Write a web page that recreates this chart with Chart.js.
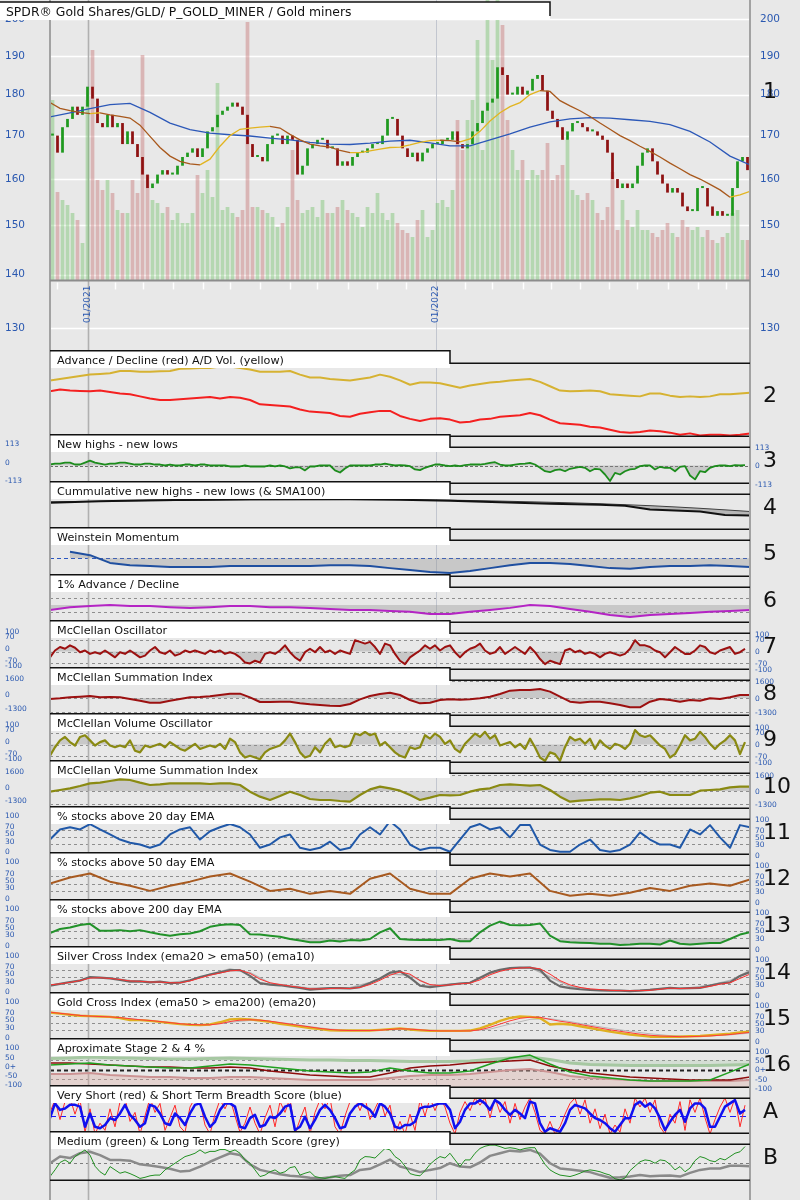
<!DOCTYPE html>
<html>
<head>
<meta charset="utf-8">
<title>GLD / P_GOLD_MINER breadth</title>
<script src="https://cdn.jsdelivr.net/npm/chart.js@4.4.1/dist/chart.umd.min.js"></script>
<style>
  html, body { margin: 0; padding: 0; background: #e8e8e8; }
  #wrap { position: relative; width: 800px; height: 1200px; overflow: hidden; background: #e8e8e8; }
  #wrap canvas { position: absolute; left: 0; }
</style>
</head>
<body>
<div id="wrap"></div>
<script>
// ---- time axis (x = sample index, one sample ~ 3.5 trading days) ----
const janTicks = [7.1, 76.7];
const janLabels = ["01/2021", "01/2022"];
const monthTicks = [0.9, 12.5, 18.1, 24.1, 30.1, 35.5, 41.5, 47.5, 52.9, 59.1, 64.9, 70.7,
  82.5, 87.9, 94.1, 99.7, 105.5, 111.3, 116.9, 123.1, 129.1, 134.7];
const priceTicks = [130, 140, 150, 160, 170, 180, 190, 200];

// ---- GLD price panel ----
const closes = [
  170,166,172,174,177,175,177,182,179,173,
  172,175,172,173,168,171,168,165,161,158,
  159,161,162,161,161,163,165,166,167,165,
  167,171,172,175,176,177,178,177,175,168,
  165,165,164,168,170,170,168,170,169,161,
  163,167,168,169,169,167,167,163,164,163,
  165,166,166,167,168,168,170,174,174,170,
  167,165,166,164,166,167,168,168,169,169,
  171,168,167,168,171,173,176,178,179,187,
  185,180,180,182,180,181,184,185,181,176,
  174,172,169,171,173,173,172,171,171,170,
  169,166,160,158,159,158,159,163,166,167,
  164,161,159,157,158,157,154,153,153,158,
  158,154,152,153,152,152,158,164,165,162];
const volumes = [
  18,8.8,8,7.5,6.7,6,3.7,18,23,10,
  9,10,8.7,7,6.7,6.7,10,8.7,22.5,10.5,
  8,7.7,6.7,7.3,6,6.7,5.7,5.7,6.7,10.5,
  8.7,11,8.3,19.7,7,7.3,6.7,6.3,7,25.8,
  7.3,7.3,7,6.7,6.3,5.3,5.7,7.3,13,8,
  6.7,7,7.3,6.3,8,6.7,6.7,7.3,8,7,
  6.7,6.3,5.3,7.3,6.7,8.7,6.7,6,6.7,5.7,
  5,4.7,4.3,6,7,4.3,5,7.7,8,7.3,
  9,16,13,16,18,24,13,28,22,28,
  25.5,16,13,11,12,10,11,10.5,11,13.7,
  10,10.5,11.5,14,9,8.5,8,8.7,8,6.7,
  6,7.3,10.8,5,8,6,5.3,7,5,5,
  4.7,4.3,5,5.7,4.7,4.3,6,5.3,5,5.3,
  4.3,5,4,3.7,4.3,4.7,6.7,7,4,4];
const sma200 = [174.5,175.5,176.5,177.5,177.8,175.6,173.0,171.4,170.6,170.2,169.9,169.4,169.0,168.4,168.0,167.9,168.2,168.7,
  168.9,168.3,167.6,167.6,169.0,170.4,172.0,173.3,174.0,174.3,174.2,173.8,173.4,172.6,171.0,168.5,165.2,163.2];
const sma50 = [
  178,176.6,176,175.6,175.3,175.5,175.0,174.6,174.2,172.5,
  169.8,167.2,165.2,164,163.4,163.2,164.5,167.5,170,171.5,
  171.8,172,172.2,171.8,170.3,169,168,167.6,167.3,166.5,
  166,166,166.4,166.8,167.2,167.3,167.8,168.4,168.8,168.9,
  168.8,168.5,169.2,171,173.5,175.5,177,178,180,181,
  180.8,178.5,177.2,176,174.6,173,171.5,170,168.8,167.5,
  166.3,165,163.6,162.3,161,160,158.8,157.6,156,156.5,157.3];

// ---- breadth panels ----
const adVolLine = [
  76,78,80,82,84,85,86,89,89,88, 88,88.5,89,92,92.5,93,93,95,95,93,
  91,88,88,88,89,84,80,80,78,77, 76,78,80,84,81,76,70,73,73,72,
  69,66,69,71,73,74,76,77,78,74, 68,62,61,61.5,62,61,57,56,55,54,
  58,58,55,53,54,53,54,57,57,58,59];
const adLine = [
  61,63.5,62,61.5,61,62,60,58,57,54, 51,49,49,50,51,52,53,51,53,52,
  49,43,42,41,40,36,33,32,31,27, 26,30,32,34,34,27,23,20,23,24,
  22,18,19,22,23,26,27,28,31,28, 22,17,16,15,12,11,8,5,4,5,
  7,6,4,1,3,0,1,1,0,1,3];
const nhnl = [
  6,12,12,18,18,6,6,18,30,18, 12,6,12,12,18,18,12,6,6,12, 12,6,6,0,6,0,0,6,6,0,
  6,6,0,0,0,0,-6,-6,-6,0, -6,-6,-6,-6,0,-6,0,-6,-18,-12, -12,-30,-6,-6,0,0,0,-30,-43,-18,
  0,0,0,0,0,6,6,12,6,0,
  2,0,-4,-24,-28,-14,-4,6,6,0, -4,0,-4,2,6,6,6,10,16,20, 6,0,0,6,10,12,16,6,-14,-35,
  -41,-28,-24,-35,-20,-14,-8,-14,-35,-20, -24,-55,-95,-45,-55,-35,-24,-20,-4,0,
  0,-24,-8,-14,-14,-35,-8,-4,-61,-85, -35,-41,-14,-4,0,0,-4,2,0,2];
const cumNhnl = [2800,2880,2950,3000,3050,3080,3100,3130,3150,3150,3150,3150,3150,3130,3100,
  3050,3000,2920,2850,2770,2700,2650,2600,2500,2100,2000,1900,1550,1500];
const cumNhnlSma = [2900,2930,2950,2980,3000,3030,3050,3080,3100,3110,3120,3125,3130,3125,3120,
  3100,3070,3020,2970,2910,2850,2780,2700,2600,2500,2370,2230,2070,1900];
const weinstein = [null,68,59,38,32,30,27,27,27,30,30,30,30,30,32,32,30,24,19,13.5,11,16,24,32,38,38,35,30,24,22,27,30,30,32,30,27];
const ad1pct = [36,44,47,50,47,47,44,42,44,47,47,44,44,42,39,36,36,33,31,25,25,31,36,42,50,47,39,31,22,17,22,25,28,31,33,36];
const mcoOsc = [
  -34,6,26,16,36,22,-4,6,-14,-4, -14,6,-14,-34,-4,-14,6,-14,-34,-24, 6,26,-4,-14,6,-24,-14,6,-4,6,
  -4,-14,6,-4,6,-14,-4,-14,-34,-64, -70,-54,-64,-14,-4,-14,6,36,-4,-34, -54,-4,16,-4,26,-4,6,-14,6,-4,
  -14,66,56,46,56,26,-14,46,36,-14, -54,-74,-34,-14,6,36,16,36,6,26, 36,-4,-34,-4,16,26,46,6,-14,-4,
  26,-14,6,26,6,-14,26,-4,-44,-74, -54,-64,-74,6,16,-4,6,-14,-4,-14, -34,-14,-4,-14,-24,-14,16,66,36,36,
  26,6,-4,-34,-4,26,6,-14,-14,6, 36,26,-4,-14,6,16,26,-14,-4,16];
const mcoSum = [
  -95,-32,63,126,189,63,95,63,-95,-252, -441,-441,-252,-95,63,95,158,284,410,410,
  63,-378,-378,-347,-347,-504,-599,-662,-725,-756, -567,-126,189,378,504,284,-189,-504,-441,-189,
  -126,-158,-126,-32,126,378,693,756,756,851, 599,126,-347,-441,-347,-347,-504,-662,-882,-882,
  -347,-95,-189,-347,-189,-252,-32,-95,63,284,284];
const mcoVolOsc = [
  -66,-16,24,44,14,-6,44,54,24,-6, 14,24,-6,-16,-6,-16,24,-36,-46,-6, -16,-6,4,-16,14,-6,-26,-36,-16,4,
  -26,-16,-6,-16,4,-26,34,14,-46,-76, -66,-76,-86,-46,-26,-16,-6,24,64,14, -46,-76,-66,-16,-46,4,34,-16,-6,-16,
  -6,64,54,74,54,64,-6,14,-16,-46, -66,-76,-16,-26,-16,54,34,64,44,4, 24,-26,-46,4,34,64,44,74,34,54,
  -6,4,14,-16,4,-26,34,-16,-76,-96, -46,-56,-96,-16,44,24,34,4,34,-26, 24,-6,-26,4,-6,-26,4,84,54,44,
  54,24,-6,-26,-76,-56,-6,54,24,34, 74,44,4,-26,4,24,54,24,-56,14];
const mcoVolSum = [
  -67,100,267,500,766,833,1000,1166,1100,833, 600,666,766,766,766,766,700,766,766,600,
  -67,-566,-900,-500,-67,-400,-800,-900,-900,-1000, -1066,-400,166,433,267,33,-400,-900,-666,-400,
  -433,-400,-67,166,267,600,666,600,533,600, 100,-566,-1066,-966,-900,-833,-833,-900,-733,-500,
  -167,-67,-400,-400,-400,33,100,166,366,433,433];
const pct20 = [
  43,71,77,71,86,71,57,43,34,29, 20,29,57,71,77,43,66,77,86,77, 57,20,29,49,57,20,14,20,37,14,
  20,57,77,57,94,71,29,14,20,20, 9,43,77,86,71,77,49,83,83,29, 14,9,9,29,43,14,9,14,29,63,
  43,29,29,20,71,57,83,49,20,83,77];
const pct50 = [50,66,77,55,44,30,44,55,69,77,55,30,36,22,30,22,63,77,36,22,22,63,77,69,77,30,17,22,17,25,38,30,44,50,44,61];
const pct200 = [
  43,54,58,65,68,49,49,51,48,51, 45,40,36,40,42,48,60,65,67,65, 40,39,36,33,27,23,18,18,23,20,
  24,23,27,45,56,27,25,24,25,24, 27,21,21,45,63,74,65,64,65,69, 36,21,18,17,16,14,14,11,12,14,
  14,12,23,14,12,14,16,16,27,39,45];
const silverIdx = [
  26,31,36,40,50,48,46,42,37,38, 35,37,33,34,41,50,57,63,69,69, 53,33,29,27,23,20,15,17,19,19,
  18,22,33,46,62,66,48,26,22,25, 29,32,34,48,62,70,75,76,76,70, 40,24,19,16,14,13,12,12,11,12,
  14,17,20,18,19,20,26,32,35,53,64];
const silverEma = [
  28,31,35,40,47,48,46,43,39,38, 36,36,34,34,39,47,55,61,67,69, 60,44,34,29,25,21,17,17,18,19,
  18,21,29,41,55,64,58,40,29,26, 28,31,33,42,56,66,72,75,76,73, 58,40,28,21,17,15,13,12,12,12,
  13,16,19,18,19,20,24,30,34,46,58];
const silverSig = [27,35,47,47,40,37,35,40,58,72,62,33,26,19,20,20,35,58,55,27,30,35,60,73,77,50,24,16,13,12,15,19,20,27,40,68];
const goldIdx = [
  79,76,73,70,69,68,67,64,58,58, 56,53,50,47,45,44,46,52,60,61, 60,57,53,48,44,40,36,33,30,29,
  29,29,29,31,33,35,32,30,28,28, 28,28,29,35,45,56,64,68,67,64, 46,48,46,41,36,31,26,22,18,15,
  12,12,12,12,13,14,16,18,20,24,26];
const goldEma = [
  80,77,74,71,69,68,67,65,62,59, 57,54,51,48,46,45,45,48,54,58, 59,58,55,51,47,43,39,35,32,30,
  29,29,29,30,32,34,33,31,29,28, 28,28,28,31,38,47,56,63,66,66, 60,55,51,46,41,36,31,27,23,19,
  16,14,13,12,12,13,14,16,18,21,24];
const goldSig = [79,74,69,67,62,57,51,46,45,52,57,55,48,40,33,30,29,31,33,30,28,28,33,47,60,62,54,44,35,27,20,15,13,14,17,22];
const stage2Upper = [59,62,67,64,62,59,57,57,59,62,59,57,54,51,51,48,48,46,43,43,43,46,54,62,67,54,35,27,24,22,22,22,22,22,24,27];
const stage2 = [24,30,35,24,19,14,8,8,19,30,24,14,3,-8,-14,-19,-14,8,-8,-19,-19,-8,30,62,78,30,-14,-35,-46,-57,-62,-62,-62,-57,-14,30];
const stage4 = [35,35,30,24,19,14,14,8,8,14,8,-8,-19,-30,-35,-40,-40,-19,8,19,24,35,40,46,51,19,-3,-19,-30,-40,-46,-51,-57,-57,-57,-40];
const stage4Lower = [-24,-24,-19,-30,-35,-40,-40,-46,-46,-40,-40,-46,-51,-57,-57,-57,-57,-46,-35,-30,-30,-24,-14,-3,3,-14,-35,-46,-51,-57,-62,-62,-62,-62,-62,-57];
const breadthS = [
  44,85,67,71,81,81,76,20,57,20, 16,25,44,39,57,81,53,39,20,30, 81,76,57,30,25,57,44,25,57,81,
  85,48,20,34,67,85,85,76,20,16, 44,53,20,25,48,44,57,76,81,11, 20,48,16,39,67,81,67,44,16,20,
  57,76,85,76,67,48,85,76,57,20, 16,25,25,34,71,76,76,81,85,85, 67,16,34,67,85,85,94,85,67,94,
  85,67,53,67,57,44,90,85,30,6, 16,11,6,30,67,81,76,71,57,44, 39,30,16,6,25,44,44,81,90,76,
  85,71,44,11,34,53,67,34,71,85, 85,71,20,20,48,76,85,94,57,67];
const breadthVS = [
  60,95,40,90,100,55,95,5,70,0, 30,10,70,20,90,100,35,60,0,50, 100,60,85,10,45,80,20,5,75,100,
  90,25,0,55,95,70,100,50,5,30, 75,30,0,45,80,20,90,60,100,0, 40,75,0,60,95,70,100,20,0,50,
  90,100,65,100,40,70,100,50,80,0, 35,0,55,10,95,50,100,65,100,75, 30,0,60,90,65,100,80,100,45,100,
  60,90,30,85,40,75,100,60,10,0, 35,0,20,55,85,100,55,95,30,70, 15,55,0,25,5,70,30,100,75,100,
  60,95,20,0,55,30,90,10,95,60, 100,45,0,40,75,100,60,100,20,80];
const breadthM = [
  12,30,50,57,48,66,75,84,70,40, 25,16,39,30,21,25,20,14,7,10, 14,16,16,30,39,48,57,66,70,75,
  84,75,80,80,85,85,79,84,75,57, 48,30,12,16,25,30,21,25,36,39, 16,21,25,12,9,7,10,12,9,7,
  20,30,57,66,65,62,75,88,84,66, 57,40,20,16,14,28,45,57,66,62, 75,57,39,57,57,75,88,94,97,97,
  93,88,90,88,84,88,90,90,66,45, 30,22,16,14,12,16,21,27,30,28, 25,20,16,6,3,8,28,40,52,57,
  55,48,57,55,45,30,39,25,35,55, 66,62,55,52,61,57,66,75,79,93];
const breadthL = [
  48,66,62,75,79,70,57,57,55,45, 42,38,33,26,28,39,52,64,75,70, 45,30,24,18,14,12,9,7,10,14,
  16,30,33,45,58,39,32,24,30,35, 48,39,37,50,68,75,82,80,84,74, 48,34,31,28,24,16,9,10,12,16,
  13,14,15,12,22,30,34,34,41,41,40];

// ---- drawing ----
const FONT = '"DejaVu Sans", Verdana, sans-serif';
const LABEL_BLUE = "#2a58b0";
const GRAY_FILL = "rgba(140,140,140,0.35)";
const wrap = document.getElementById("wrap");
const TOPS = [350, 434, 481, 527, 574, 620, 667, 713, 760, 806, 852, 899, 946, 992, 1038, 1085, 1131];
const LAST_BOTTOM = 1181;
const LABEL_ROOM = 8; // extra canvas below each panel so bottom tick labels are not cut

// step = how many sample indexes between two consecutive values of the array
function pts(arr, step) {
  return arr.map((v, k) => ({ x: k * step - 0.5, y: v }));
}
function ln(arr, step, color, width, extra) {
  return Object.assign({
    type: "line", data: pts(arr, step), borderColor: color, borderWidth: width,
    pointRadius: 0, fill: false, borderJoinStyle: "round",
  }, extra || {});
}
function seg(ctx, x1, y1, x2, y2) {
  ctx.beginPath(); ctx.moveTo(x1, y1); ctx.lineTo(x2, y2); ctx.stroke();
}
function newCanvas(top, h) {
  const cv = document.createElement("canvas");
  cv.width = 800; cv.height = h;
  cv.style.top = top + "px"; cv.style.width = "800px"; cv.style.height = h + "px";
  wrap.appendChild(cv);
  return cv;
}
function drawJan(chart, bottom) {
  const { ctx, scales: { x } } = chart;
  janTicks.forEach((j, n) => {
    const px = Math.round(x.getPixelForValue(j)) + 0.5;
    ctx.strokeStyle = n ? "#c2c6cf" : "#b0b0b0";
    ctx.lineWidth = n ? 1 : 1.6;
    seg(ctx, px, 0, px, bottom);
  });
}
function drawSides(chart, bottom) {
  const { ctx, chartArea: a } = chart;
  ctx.strokeStyle = "#a2a2a2"; ctx.lineWidth = 2;
  seg(ctx, a.left, 0, a.left, bottom);
  seg(ctx, a.right, 0, a.right, bottom);
}

function makeDecor(cfg) {
  return {
    id: "decor",
    beforeDatasetsDraw(chart) {
      const { ctx, scales: { y }, chartArea: a } = chart;
      ctx.save();
      (cfg.refs || []).forEach(r => {
        const py = Math.round(y.getPixelForValue(r.v)) + 0.5;
        ctx.strokeStyle = r.c || "#8e8e8e";
        ctx.lineWidth = r.w || 1;
        ctx.setLineDash(r.d || [3, 3]);
        seg(ctx, a.left, py, a.right, py);
      });
      ctx.setLineDash([]);
      drawJan(chart, a.bottom);
      ctx.restore();
    },
    afterDatasetsDraw(chart) {
      const { ctx, scales: { y }, chartArea: a } = chart;
      ctx.save();
      drawSides(chart, a.bottom);
      // bottom frame line
      ctx.strokeStyle = "#111"; ctx.lineWidth = 1.5;
      seg(ctx, a.left, a.bottom - 0.75, a.right, a.bottom - 0.75);
      // title box + stepped top frame
      ctx.fillStyle = "#fff";
      ctx.fillRect(a.left + 1, 0, 399, 18);
      ctx.beginPath();
      ctx.moveTo(a.left, 0.75); ctx.lineTo(450, 0.75); ctx.lineTo(450, 13.25); ctx.lineTo(a.right, 13.25);
      ctx.stroke();
      ctx.fillStyle = "#111"; ctx.font = "11.2px " + FONT; ctx.textBaseline = "alphabetic";
      ctx.fillText(cfg.title, 57, 13.5);
      // value labels, both sides
      ctx.font = "7.5px " + FONT; ctx.fillStyle = LABEL_BLUE; ctx.textBaseline = "middle";
      (cfg.labels || []).forEach(([v, t]) => {
        const py = y.getPixelForValue(v);
        ctx.fillText(t, 5, py - 2.5);
        ctx.fillText(t, 755, py + 1);
      });
      // panel number
      ctx.fillStyle = "#111"; ctx.font = "22px " + FONT; ctx.textBaseline = "middle";
      ctx.fillText(cfg.num, 763, (a.top + a.bottom) / 2 - 4);
      ctx.restore();
    },
  };
}

function addPanel(n, cfg) {
  const top = TOPS[n];
  const bottom = (n + 1 < TOPS.length ? TOPS[n + 1] + 3 : LAST_BOTTOM);
  const cv = newCanvas(top, bottom - top + LABEL_ROOM);
  return new Chart(cv, {
    type: "line",
    data: { datasets: cfg.datasets },
    options: {
      responsive: false, animation: false, devicePixelRatio: 1,
      layout: { padding: { left: 50, right: 50, top: 13, bottom: LABEL_ROOM } },
      plugins: { legend: { display: false }, tooltip: { enabled: false } },
      scales: {
        x: { type: "linear", min: -0.5, max: 139.5, display: false },
        y: Object.assign({ type: "linear", display: false }, cfg.y),
      },
    },
    plugins: [makeDecor(cfg)],
  });
}

// ---- main price panel ----
(function mainPanel() {
  const GREEN = "#1f9a1f", RED = "#8e1212";
  const opens = closes.map((c, i) => (i ? closes[i - 1] : c));
  const up = closes.map((c, i) => c >= opens[i]);
  const cv = newCanvas(0, 350);
  const decor = {
    id: "mainDecor",
    beforeDatasetsDraw(chart) {
      const { ctx, scales: { y }, chartArea: a } = chart;
      ctx.save();
      ctx.strokeStyle = "#ffffff"; ctx.lineWidth = 1.3;
      priceTicks.forEach(p => {
        const py = Math.round(y.getPixelForValue(p)) + 0.5;
        seg(ctx, a.left, py, a.right, py);
      });
      drawJan(chart, chart.height);
      ctx.restore();
    },
    afterDatasetsDraw(chart) {
      const { ctx, scales: { x, y, vol }, chartArea: a } = chart;
      ctx.save();
      drawSides(chart, chart.height);
      const base = Math.round(vol.getPixelForValue(0)) + 0.5;
      ctx.strokeStyle = "#8c8c8c"; ctx.lineWidth = 2;
      seg(ctx, a.left, base, a.right, base);
      ctx.strokeStyle = "#ffffff"; ctx.lineWidth = 1.5;
      monthTicks.forEach(m => {
        const px = Math.round(x.getPixelForValue(m)) + 0.5;
        seg(ctx, px, base + 2, px, base + 9);
      });
      ctx.fillStyle = LABEL_BLUE; ctx.font = "9px " + FONT; ctx.textBaseline = "alphabetic";
      janTicks.forEach((j, n) => {
        ctx.save();
        ctx.translate(x.getPixelForValue(j) + 2, 323);
        ctx.rotate(-Math.PI / 2);
        ctx.fillText(janLabels[n], 0, 0);
        ctx.restore();
      });
      ctx.font = "10.5px " + FONT; ctx.textBaseline = "middle";
      priceTicks.forEach(p => {
        const py = y.getPixelForValue(p);
        ctx.fillText(String(p), 5, py);
        ctx.fillText(String(p), 760, py);
      });
      // title box
      ctx.fillStyle = "#fff"; ctx.fillRect(0, 2, 550, 18);
      ctx.strokeStyle = "#111"; ctx.lineWidth = 1.5;
      ctx.beginPath(); ctx.moveTo(0, 2); ctx.lineTo(550, 2); ctx.lineTo(550, 16); ctx.stroke();
      ctx.fillStyle = "#111"; ctx.font = "12.4px " + FONT; ctx.textBaseline = "alphabetic";
      ctx.fillText("SPDR\u00ae Gold Shares/GLD/ P_GOLD_MINER / Gold miners", 6, 16);
      ctx.font = "22px " + FONT; ctx.textBaseline = "middle";
      ctx.fillText("1", 763, 92);
      ctx.restore();
    },
  };
  new Chart(cv, {
    type: "bar",
    data: {
      datasets: [
        { type: "line", data: pts(sma50, 2), borderColor: "#a8581c", borderWidth: 1.3, pointRadius: 0,
          segment: { borderColor: c => (c.p1.parsed.y >= c.p0.parsed.y ? "#e2b420" : "#a8581c") },
          yAxisID: "y", order: 0 },
        { type: "line", data: pts(sma200, 4), borderColor: "#2c58b8", borderWidth: 1.3, pointRadius: 0,
          yAxisID: "y", order: 1 },
        { type: "bar", data: closes.map((c, i) => ({ x: i, y: [opens[i], c] })),
          backgroundColor: up.map(u => (u ? GREEN : RED)), barPercentage: 0.55, categoryPercentage: 1,
          minBarLength: 2, grouped: false, yAxisID: "y", order: 2 },
        { type: "bar", data: volumes.map((v, i) => ({ x: i, y: v })),
          backgroundColor: up.map(u => (u ? "rgba(120,195,110,0.45)" : "rgba(200,120,120,0.45)")),
          barPercentage: 0.75, categoryPercentage: 1, grouped: false, yAxisID: "vol", order: 3 },
      ],
    },
    options: {
      responsive: false, animation: false, devicePixelRatio: 1,
      layout: { padding: { left: 50, right: 50, top: 0, bottom: 2 } },
      plugins: { legend: { display: false }, tooltip: { enabled: false } },
      scales: {
        x: { type: "linear", min: -0.5, max: 139.5, offset: false, display: false },
        y: { type: "logarithmic", min: 126.4, max: 205.4, display: false },
        vol: { type: "linear", min: -6.8, max: 28, display: false },
      },
    },
    plugins: [decor],
  });
})();

// ---- sub panels ----
const pctLabels = [[100, "100"], [70, "70"], [50, "50"], [30, "30"], [0, "0"]];
const pctRefs = [{ v: 70 }, { v: 50 }, { v: 30 }];
const oscLabels = [[100, "100"], [70, "70"], [0, "0"], [-70, "-70"], [-100, "-100"]];
const oscRefs = [{ v: 70 }, { v: 0 }, { v: -70 }];
const sumLabels = [[1600, "1600"], [0, "0"], [-1300, "-1300"]];
const sumRefs = [{ v: 1600 }, { v: 0 }, { v: -1300 }];
const fill0 = { fill: { value: 0 }, backgroundColor: GRAY_FILL };

addPanel(0, { title: "Advance / Decline (red) A/D Vol. (yellow)", num: "2", y: { min: -2, max: 100 },
  datasets: [ln(adVolLine, 2, "#d6b232", 2), ln(adLine, 2, "#f42020", 2)] });
addPanel(1, { title: "New highs - new lows", num: "3", y: { min: -113, max: 113 },
  refs: [{ v: 0, c: "#6c6c6c", d: [3, 2] }], labels: [[113, "113"], [0, "0"], [-113, "-113"]],
  datasets: [ln(nhnl, 1, "#1c8c1c", 1.8, fill0)] });
addPanel(2, { title: "Cummulative new highs - new lows (& SMA100)", num: "4", y: { min: 0, max: 3700 },
  datasets: [ln(cumNhnl, 5, "#111", 2, { fill: "+1", backgroundColor: "rgba(90,90,90,0.35)" }),
    ln(cumNhnlSma, 5, "#3a3a3a", 1)] });
addPanel(3, { title: "Weinstein Momentum", num: "5", y: { min: 0, max: 100 },
  refs: [{ v: 51, c: "#2a56c0", d: [4, 3] }],
  datasets: [ln(weinstein, 4, "#1f4fa0", 2, { fill: { value: 51 }, backgroundColor: GRAY_FILL })] });
addPanel(4, { title: "1% Advance / Decline", num: "6", y: { min: 0, max: 100 },
  refs: [{ v: 70 }, { v: 30 }],
  datasets: [ln(ad1pct, 4, "#b424c4", 2, { fill: { value: 50 }, backgroundColor: GRAY_FILL })] });
addPanel(5, { title: "McClellan Oscillator", num: "7", y: { min: -108, max: 108 }, refs: oscRefs, labels: oscLabels,
  datasets: [ln(mcoOsc, 1, "#9c1010", 2, fill0)] });
addPanel(6, { title: "McClellan Summation Index", num: "8", y: { min: -1700, max: 1700 }, refs: sumRefs, labels: sumLabels,
  datasets: [ln(mcoSum, 2, "#9c1010", 2, fill0)] });
addPanel(7, { title: "McClellan Volume Oscillator", num: "9", y: { min: -108, max: 108 }, refs: oscRefs, labels: oscLabels,
  datasets: [ln(mcoVolOsc, 1, "#8a8a12", 2.2, fill0)] });
addPanel(8, { title: "McClellan Volume Summation Index", num: "10", y: { min: -1800, max: 1800 }, refs: sumRefs, labels: sumLabels,
  datasets: [ln(mcoVolSum, 2, "#8a8a12", 2.2, fill0)] });
addPanel(9, { title: "% stocks above 20 day EMA", num: "11", y: { min: 0, max: 100 }, refs: pctRefs, labels: pctLabels,
  datasets: [ln(pct20, 2, "#2058a8", 2)] });
addPanel(10, { title: "% stocks above 50 day EMA", num: "12", y: { min: 0, max: 100 }, refs: pctRefs, labels: pctLabels,
  datasets: [ln(pct50, 4, "#a85a20", 2)] });
addPanel(11, { title: "% stocks above 200 day EMA", num: "13", y: { min: 0, max: 100 }, refs: pctRefs, labels: pctLabels,
  datasets: [ln(pct200, 2, "#22922a", 2, { fill: { target: { value: 30 }, above: "rgba(0,0,0,0)", below: GRAY_FILL } })] });
addPanel(12, { title: "Silver Cross Index (ema20 > ema50) (ema10)", num: "14", y: { min: 0, max: 100 }, refs: pctRefs, labels: pctLabels,
  datasets: [ln(silverEma, 2, "#ff3030", 1), ln(silverIdx, 2, "#6a6a6a", 2.2), ln(silverSig, 4, "#b4b4b4", 1.5)] });
addPanel(13, { title: "Gold Cross Index (ema50 > ema200) (ema20)", num: "15", y: { min: 0, max: 100 }, refs: pctRefs, labels: pctLabels,
  datasets: [ln(goldEma, 2, "#ff3a3a", 1), ln(goldIdx, 2, "#e0b020", 2.4), ln(goldSig, 4, "#b8b8b8", 1)] });
addPanel(14, { title: "Aproximate Stage 2 & 4 %", num: "16", y: { min: -100, max: 100 },
  refs: [{ v: 50, c: "#909090" }, { v: 0, c: "#222", w: 2, d: [4, 3] }, { v: -50, c: "#909090" }],
  labels: [[100, "100"], [50, "50"], [0, "0+"], [-50, "-50"], [-100, "-100"]],
  datasets: [ln(stage2, 4, "#20a020", 1.5), ln(stage4, 4, "#8e0c0c", 1.5),
    ln(stage2Upper, 4, "#a6c8a2", 3, { fill: { value: 50 }, backgroundColor: "rgba(150,190,150,0.25)" }),
    ln(stage4Lower, 4, "#cc9494", 2, { fill: { value: -100 }, backgroundColor: "rgba(215,160,150,0.3)" })] });
addPanel(15, { title: "Very Short (red) & Short Term Breadth Score (blue)", num: "A", y: { min: 0, max: 100 },
  refs: [{ v: 50, c: "#1a1aff", d: [6, 4], w: 1.2 }],
  datasets: [ln(breadthS, 1, "#1010f0", 2.5), ln(breadthVS, 1, "#ff2828", 1)] });
addPanel(16, { title: "Medium (green) & Long Term Breadth Score (grey)", num: "B", y: { min: 0, max: 100 },
  refs: [{ v: 50, c: "#7c7c7c", d: [3, 3] }],
  datasets: [ln(breadthM, 1, "#229022", 1), ln(breadthL, 2, "#8a8a8a", 2.5)] });

// left/right frame lines below the last panel, down to the page bottom
(function tail() {
  const cv = newCanvas(LAST_BOTTOM, 1200 - LAST_BOTTOM);
  const ctx = cv.getContext("2d");
  ctx.strokeStyle = "#a2a2a2"; ctx.lineWidth = 2;
  seg(ctx, 50, 0, 50, cv.height);
  seg(ctx, 750, 0, 750, cv.height);
  ctx.strokeStyle = "#b0b0b0"; ctx.lineWidth = 1.6;
  seg(ctx, 88.5, 0, 88.5, cv.height);
  ctx.strokeStyle = "#c2c6cf"; ctx.lineWidth = 1;
  seg(ctx, 436.5, 0, 436.5, cv.height);
})();
</script>
</body>
</html>
